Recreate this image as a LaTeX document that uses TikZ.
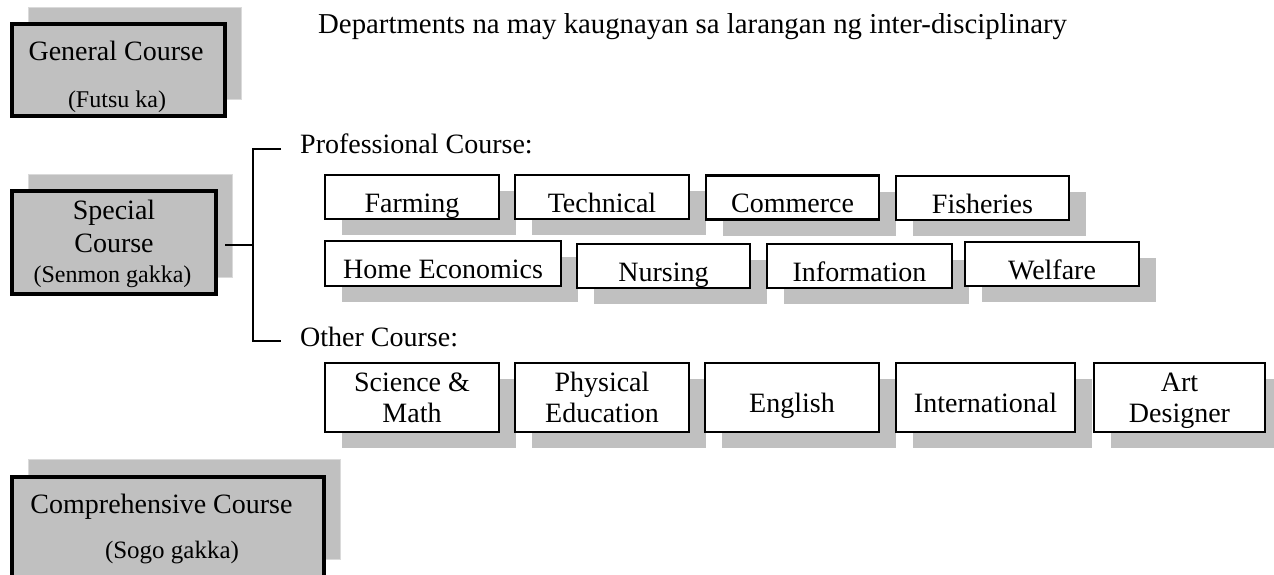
\documentclass[tikz,border=0pt]{standalone}
\usepackage{fontspec}
\setmainfont{Liberation Serif}
\usetikzlibrary{shadows}
\definecolor{boxgray}{RGB}{192,192,192}
\definecolor{shedge}{RGB}{218,218,218}
\begin{document}
\begin{tikzpicture}[x=1pt,y=-1pt,
  big/.style={draw=black, line width=4pt, fill=boxgray, inner sep=0pt,
     general shadow={fill=boxgray, draw=shedge, line width=1pt, shadow xshift=16pt, shadow yshift=17pt}},
  small/.style={draw=black, line width=2.4pt, fill=white, inner sep=0pt,
     font=\fontsize{28}{31}\selectfont,
     general shadow={fill=boxgray, draw=none, shadow xshift=17pt, shadow yshift=-16pt}},
  one/.style={small, text height=33pt, text depth=3pt},
  two/.style={small, align=center},
  sz/.style 2 args={minimum width=#1, minimum height=#2},
  txt/.style={anchor=base, inner sep=0pt, font=\fontsize{28}{31}\selectfont},
  sub/.style={anchor=base, inner sep=0pt, font=\fontsize{24}{28}\selectfont},
  bracket/.style={line width=1.5pt}]
\useasboundingbox (0,0) rectangle (1274,574);

% title
\node[txt, anchor=base west, font=\fontsize{28.8}{31}\selectfont] (title) at (318,33) {Departments na may kaugnayan sa larangan ng inter-disciplinary};

% General course
\node[big, sz={213pt}{92pt}] (gen) at (118.5,70) {};
\node[txt] (genA) at (116,60) {General Course};
\node[sub] (genB) at (117,107) {(Futsu ka)};

% Special course
\node[big, sz={204pt}{103pt}] (spec) at (114,242.5) {};
\node[txt] (specA) at (114,219) {Special};
\node[txt] (specB) at (114,252) {Course};
\node[sub] (specC) at (112.5,282) {(Senmon gakka)};

% Comprehensive course
\node[big, sz={312pt}{100pt}] (comp) at (168,526.5) {};
\node[txt] (compA) at (161.5,513) {Comprehensive Course};
\node[sub, font=\fontsize{25}{28}\selectfont] (compB) at (172,558) {(Sogo gakka)};

% bracket
\node[txt, anchor=base west] (prof) at (300,153) {Professional Course:};
\node[txt, anchor=base west] (oth) at (300,346) {Other Course:};
\coordinate (brT) at (281,149);
\coordinate (brB) at (281,341);
\draw[bracket] ([xshift=7pt,yshift=-2.5pt]spec.east) -- ++(28,0) coordinate (brM);
\draw[bracket] (brT) -| (brM) |- (brB);

% professional row 1
\node[one, sz={174pt}{44pt}] (farm) at (412,197) {Farming};
\node[one, sz={174pt}{44pt}] (tech) at (602,197) {Technical};
\node[one, sz={173pt}{44pt}] (comm) at (792.5,197.5) {Commerce};
\node[one, sz={173pt}{44pt}] (fish) at (982.5,198) {Fisheries};

% professional row 2
\node[one, sz={236pt}{45pt}] (home) at (443,263.5) {Home Economics};
\node[one, sz={173pt}{44pt}] (nurs) at (663.5,266) {Nursing};
\node[one, sz={185pt}{44pt}] (info) at (859.5,266) {Information};
\node[one, sz={174pt}{44pt}] (welf) at (1052,264) {Welfare};

% other row
\node[two, sz={174pt}{69pt}] (sci) at (412,397.5) {Science \&\\Math};
\node[two, sz={174pt}{69pt}] (phys) at (602,397.5) {Physical\\Education};
\node[one, sz={174pt}{69pt}] (eng) at (792,397.5) {English};
\node[one, sz={179pt}{69pt}] (intl) at (985.5,397.5) {International};
\node[two, sz={171pt}{69pt}, text depth=0pt] (art) at (1179.5,397.5) {Art\\Designer};
\end{tikzpicture}
\end{document}
